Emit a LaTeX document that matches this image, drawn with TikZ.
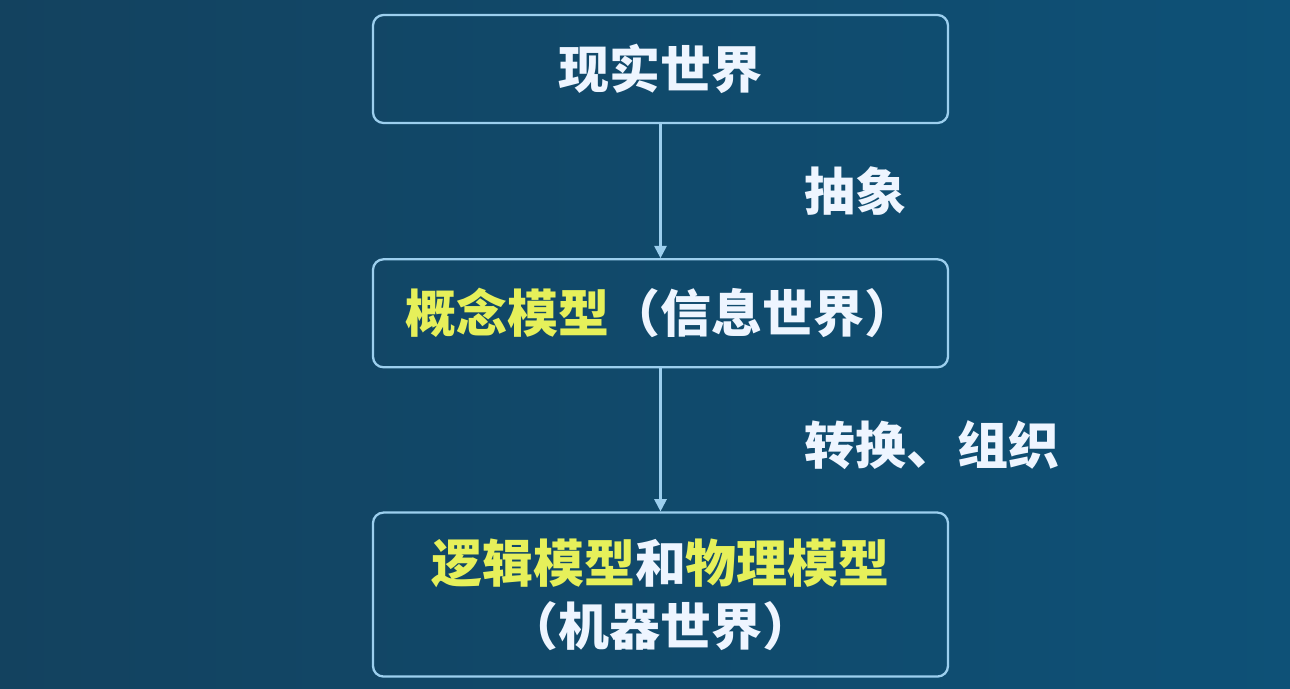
\documentclass[tikz,border=0pt]{standalone}
\usepackage{xcolor}
\usepackage{fontspec}
\setmainfont{Noto Sans CJK SC}
\usepackage{tikz}
\usetikzlibrary{arrows.meta, positioning}
\definecolor{BgL}   {HTML}{13425F}
\definecolor{BgR}   {HTML}{0E5177}
\definecolor{Line}  {HTML}{9CCFEE}
\definecolor{Yellow}{HTML}{E6F05A}
\definecolor{Snow}  {HTML}{EEF5FF}
\tikzset{
  box/.style={draw=Line, line width=1.3pt, rounded corners=6pt, align=center,
              text=Snow, font=\fontsize{29}{36}\selectfont\bfseries,
              minimum width=11.5cm, minimum height=2.16cm},
  arr/.style={-{Triangle[length=7pt,width=7pt]}, line width=1.2pt, color=Line},
  lbl/.style={text=Snow, font=\fontsize{29}{34}\selectfont\bfseries, anchor=west}
}
\begin{document}
\begin{tikzpicture}
  \shade[left color=BgL, right color=BgR] (0,0) rectangle (25.8,13.76);
  \useasboundingbox (0,0) rectangle (25.8,13.76);
  \node[box] (R) at (13.21,12.38) {现实世界};
  \node[box,below=2.68cm of R] (I)
    {\textcolor{Yellow}{概念模型}（信息世界）};
  \node[box,below=2.86cm of I,minimum height=3.28cm] (M)
    {\textcolor{Yellow}{逻辑模型}和\textcolor{Yellow}{物理模型}\\（机器世界）};
  \draw[arr](R)--node[lbl,midway,xshift=2.75cm]{抽象}(I);
  \draw[arr](I)--node[lbl,midway,xshift=2.75cm,yshift=-0.1cm]{转换、组织}(M);
\end{tikzpicture}
\end{document}
